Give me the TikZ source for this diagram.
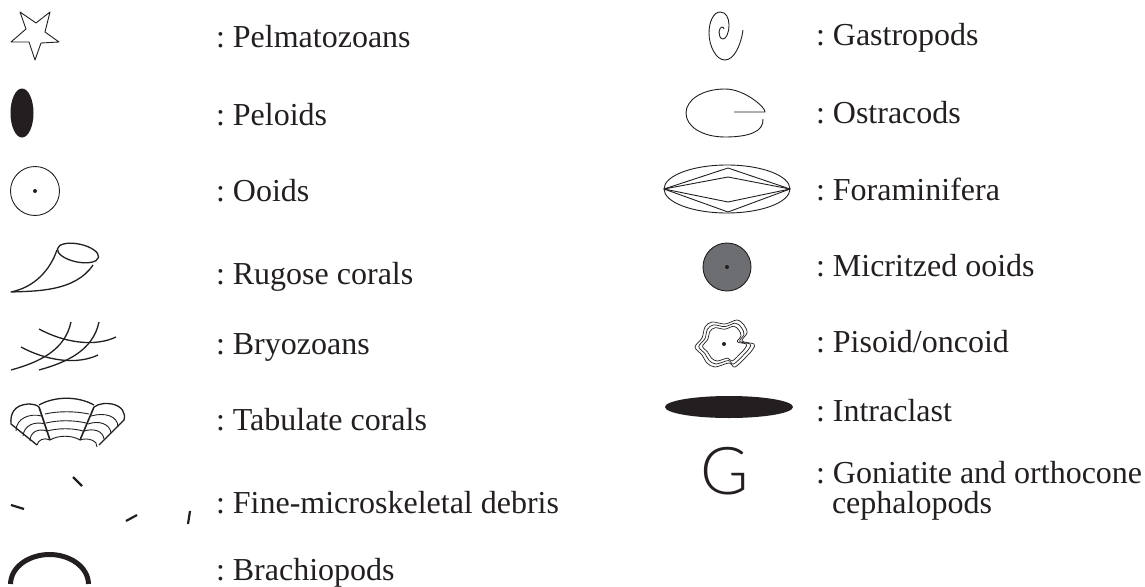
\documentclass[tikz,border=0pt]{standalone}
\usepackage{fontspec}
\setmainfont{Liberation Serif}
\newfontfamily\gfont{Lato Light}
\definecolor{ink}{HTML}{231F20}
\definecolor{micrite}{HTML}{6D6E71}
\frenchspacing
\tikzset{
  lab/.style={anchor=base west,inner sep=0pt,outer sep=0pt,text=ink,font=\fontsize{32}{36}\selectfont\frenchspacing},
  thinl/.style={draw=ink,line width=0.9pt,line join=round},
  medl/.style={draw=ink,line width=1.3pt,line join=round},
  dotf/.style={fill=ink,draw=none},
  debris/.style={draw=ink,line width=2.2pt},
}
\begin{document}
\begin{tikzpicture}[x=1pt,y=-1pt]
\useasboundingbox (0,0) rectangle (1145,586);
% labels
\node[lab] (t1) at (216,48) {: Pelmatozoans};
\node[lab] (t2) at (216,125) {: Peloids};
\node[lab] (t3) at (216,201) {: Ooids};
\node[lab] (t4) at (216,284) {: Rugose corals};
\node[lab] (t5) at (216,354) {: Bryozoans};
\node[lab] (t6) at (216,430) {: Tabulate corals};
\node[lab] (t7) at (216,513) {: Fine-microskeletal debris};
\node[lab] (t8) at (216,580) {: Brachiopods};
\node[lab] (r1) at (816,46) {: Gastropods};
\node[lab] (r2) at (816,123) {: Ostracods};
\node[lab] (r3) at (816,200) {: Foraminifera};
\node[lab] (r4) at (816,276) {: Micritzed ooids};
\node[lab] (r5) at (816,352) {: Pisoid/oncoid};
\node[lab] (r6) at (816,421) {: Intraclast};
\node[lab] (r7) at (816,483) {: Goniatite and orthocone};
\node[lab] (r8) at (832,513) {cephalopods};
% star
\draw[thinl] (20,12)--(36,23)--(50,12)--(45,32)--(59,42)--(41,43)--(35,60)--(29,42)--(11,42)--(26,29)--cycle;
% peloid
\fill[ink] (22,113) ellipse [x radius=11.5,y radius=24.5];
% ooid
\draw[thinl] (35,191) circle [radius=24.5];
\fill[dotf] (35,191) circle [radius=2];
% rugose
\draw[medl] (78,253) [rotate around={-12:(78,253)}] ellipse [x radius=21,y radius=9];
\draw[medl] (57,250) .. controls (50,270) and (35,287) .. (11,292) .. controls (35,291) and (75,292) .. (93,265);
% bryozoans
\draw[medl] (11,370) .. controls (40,362) and (65,350) .. (71,322);
\draw[medl] (39,370) .. controls (68,362) and (93,350) .. (99,322);
\draw[medl] (39,329) .. controls (65,343) and (95,347) .. (116,337);
\draw[medl] (21,347) .. controls (47,361) and (77,365) .. (98,355);
% tabulate
\draw[medl] (37,445) -- (11,424) .. controls (10,414) and (14,405) .. (28,404) .. controls (33,404) and (37,405) .. (39,407);
\draw[medl] (39,405) .. controls (55,396) and (78,396) .. (94,405);
\draw[medl] (94,407) .. controls (100,403) and (106,403) .. (112,404) .. controls (122,406) and (126,413) .. (124,420) -- (99,445);
\draw[draw=ink,line width=1.6pt] (39,407) -- (50,440);
\draw[draw=ink,line width=1.6pt] (94,407) -- (80,440);
\draw[thinl] (45,414) .. controls (58,411) and (75,411) .. (89,414);
\draw[thinl] (46,423) .. controls (58,420) and (74,420) .. (86,423);
\draw[thinl] (47,431) .. controls (58,428) and (73,428) .. (83,431);
\draw[thinl] (50,440) .. controls (58,435) and (72,435) .. (80,440);
\draw[thinl] (16,431) .. controls (16,418) and (30,413) .. (42,416);
\draw[thinl] (23,436) .. controls (24,425) and (35,421) .. (45,424);
\draw[thinl] (30,441) .. controls (30,432) and (38,428) .. (47,431);
\draw[thinl] (37,445) .. controls (38,440) and (44,437) .. (50,440);
\draw[thinl] (118,427) .. controls (118,416) and (105,412) .. (91,416);
\draw[thinl] (111,433) .. controls (110,424) and (99,420) .. (88,424);
\draw[thinl] (104,439) .. controls (103,431) and (94,428) .. (84,431);
\draw[thinl] (97,447) .. controls (98,441) and (88,437) .. (80,440);
% debris
\draw[debris] (73,477) -- (82,486);
\draw[debris] (11,505) -- (24,509);
\draw[debris] (126,521) -- (137,515);
\draw[debris] (188,524) -- (190,511);
% brachiopod
\draw[draw=ink,line width=5pt] (10.5,584) .. controls (11,566) and (30,554.5) .. (49.5,554.5) .. controls (69,554.5) and (88,566) .. (88.5,584);
% gastropod
\draw[thinl] (743,30) .. controls (741,45) and (734,60) .. (725,60) .. controls (716,60) and (709,46) .. (709,33) .. controls (709,21) and (714,12) .. (720,12) .. controls (726,12) and (729,18) .. (729,25) .. controls (729,33) and (726,39) .. (723,39) .. controls (720,39) and (719,35) .. (719,32) .. controls (719,29) and (721,27) .. (722,27) .. controls (723,27) and (724,28) .. (724,29);
% ostracod
\draw[thinl] (734,112) -- (765,112) .. controls (766,108) and (745,89) .. (725,89) .. controls (702,89) and (686,100) .. (686,113) .. controls (686,127) and (703,137) .. (725,137) .. controls (748,137) and (764,132) .. (763,119);
% foraminifera
\draw[thinl] (727,189) ellipse [x radius=63,y radius=24];
\draw[thinl] (664,189) -- (728,168) -- (790,189) -- (728,212) -- cycle;
\draw[thinl] (664,189) -- (728,177) -- (790,189) -- (728,202) -- cycle;
% micritized
\draw[draw=ink,line width=0.9pt,fill=micrite] (727,267) circle [radius=24];
\fill[dotf] (727,267) circle [radius=2];
% pisoid
\begin{scope}[shift={(724,344)}]
\foreach \s in {1,0.87,0.74}{
\draw[draw=ink,line width=0.7pt,scale=\s] plot[smooth cycle,tension=0.55] coordinates {(-12,-22)(1,-20)(13,-24)(20,-19)(23,-11)(18,-3)(30,0)(29,5)(23,12)(11,23)(5,19)(-9,23)(-17,19)(-22,11)(-29,3)(-22,-6)(-19,-17)};
}
\fill[dotf] (0,0) circle [radius=2];
\end{scope}
% intraclast
\fill[ink] (729,407) ellipse [x radius=64,y radius=11];
% G
\node[anchor=base,inner sep=0pt,text=ink,font=\gfont\fontsize{66}{70}\selectfont] (g) at (725,494) {G};
\end{tikzpicture}
\end{document}
